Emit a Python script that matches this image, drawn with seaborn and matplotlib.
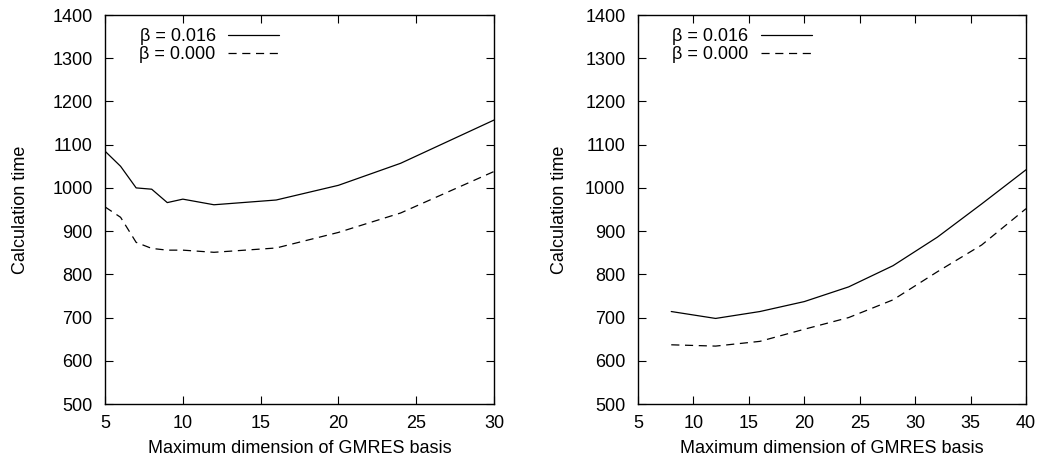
import pandas as pd
import seaborn as sns
import matplotlib.pyplot as plt

# =============================================================================
# Data
# =============================================================================
beta_labels = ["β = 0.016", "β = 0.000"]

left_m = [5, 6, 7, 8, 9, 10, 12, 16, 20, 24, 30]
left_beta016 = [1085, 1050, 1000, 997, 966, 974, 961, 972, 1006, 1057, 1157]
left_beta000 = [956, 932, 874, 860, 856, 856, 851, 861, 897, 942, 1038]

right_m = [8, 12, 16, 20, 24, 28, 32, 36, 40]
right_beta016 = [714, 698, 714, 737, 771, 820, 886, 963, 1042]
right_beta000 = [637, 634, 645, 673, 700, 741, 806, 868, 952]

y_ticks = [500, 600, 700, 800, 900, 1000, 1100, 1200, 1300, 1400]
left_xticks = [5, 10, 15, 20, 25, 30]
right_xticks = [5, 10, 15, 20, 25, 30, 35, 40]


def to_long(m, solid, dashed):
    return pd.concat([
        pd.DataFrame({"m": m, "time": solid, "beta": beta_labels[0]}),
        pd.DataFrame({"m": m, "time": dashed, "beta": beta_labels[1]}),
    ], ignore_index=True)


left_df = to_long(left_m, left_beta016, left_beta000)
right_df = to_long(right_m, right_beta016, right_beta000)

# =============================================================================
# Style
# =============================================================================
sns.set_style("ticks")
plt.rcParams["font.family"] = ["Liberation Sans", "DejaVu Sans"]
plt.rcParams["font.size"] = 13
plt.rcParams["text.color"] = "black"
plt.rcParams["axes.labelcolor"] = "black"
plt.rcParams["axes.linewidth"] = 1.0
plt.rcParams["xtick.direction"] = "in"
plt.rcParams["ytick.direction"] = "in"
plt.rcParams["xtick.major.size"] = 5.8
plt.rcParams["ytick.major.size"] = 5.8
plt.rcParams["xtick.major.pad"] = 8
plt.rcParams["ytick.major.pad"] = 9

fig = plt.figure(figsize=(10.44, 4.62), dpi=100)
ax_l = fig.add_axes([0.1006, 0.1255, 0.3726, 0.842])
ax_r = fig.add_axes([0.6111, 0.1255, 0.3717, 0.842])


def draw_panel(ax, df, xlim, xticks, ylabelpad):
    sns.lineplot(
        data=df,
        x="m",
        y="time",
        hue="beta",
        style="beta",
        hue_order=beta_labels,
        style_order=beta_labels,
        palette=["black", "black"],
        dashes={beta_labels[0]: "", beta_labels[1]: (6.5, 4.5)},
        linewidth=0.9,
        ax=ax,
    )
    ax.set_xlim(*xlim)
    ax.set_ylim(500, 1400)
    ax.set_xticks(xticks)
    ax.set_yticks(y_ticks)
    ax.tick_params(top=True, right=True, color="black", labelcolor="black")
    for spine in ax.spines.values():
        spine.set_visible(True)
        spine.set_color("black")
    ax.set_xlabel("Maximum dimension of GMRES basis", labelpad=6)
    ax.set_ylabel("Calculation time", labelpad=ylabelpad)

    handles, labels = ax.get_legend_handles_labels()
    ax.legend(
        handles,
        labels,
        loc="upper left",
        bbox_to_anchor=(0.07, 0.985),
        frameon=False,
        markerfirst=False,
        handlelength=2.8,
        handletextpad=0.7,
        labelspacing=0.05,
        borderaxespad=0,
        fontsize=13,
    )


draw_panel(ax_l, left_df, (5, 30), left_xticks, 17)
draw_panel(ax_r, right_df, (5, 40), right_xticks, 12)

plt.savefig("out.png", dpi=100)
